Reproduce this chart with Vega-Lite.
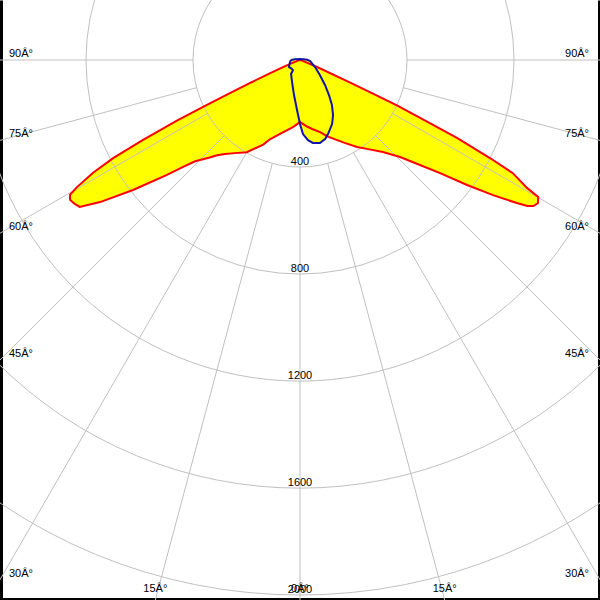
{
  "$schema": "https://vega.github.io/schema/vega-lite/v6.json",
  "width": 600,
  "height": 600,
  "padding": 0,
  "autosize": {"type": "none"},
  "background": "white",
  "config": {"view": {"stroke": null}, "text": {"font": "Liberation Sans", "fontSize": 11, "color": "black"}},
  "resolve": {"axis": {"x": "independent", "y": "independent"}},
  "datasets": {
    "red": [
      {"angle": -90, "cd": 0}, {"angle": -80, "cd": 0}, {"angle": -72, "cd": 5}, {"angle": -69, "cd": 30},
      {"angle": -67.5, "cd": 69}, {"angle": -66.2, "cd": 130}, {"angle": -65.3, "cd": 209}, {"angle": -64.7, "cd": 300},
      {"angle": -64.3, "cd": 386}, {"angle": -63.8, "cd": 511}, {"angle": -63, "cd": 662}, {"angle": -62.3, "cd": 789},
      {"angle": -61.4, "cd": 881}, {"angle": -60.3, "cd": 961}, {"angle": -59.6, "cd": 997}, {"angle": -58.7, "cd": 1006},
      {"angle": -57.5, "cd": 1000}, {"angle": -56.3, "cd": 990}, {"angle": -54.6, "cd": 917}, {"angle": -52.1, "cd": 791},
      {"angle": -49.2, "cd": 657}, {"angle": -47.5, "cd": 590}, {"angle": -46, "cd": 545}, {"angle": -45, "cd": 529},
      {"angle": -43, "cd": 500}, {"angle": -41, "cd": 472}, {"angle": -38.6, "cd": 450}, {"angle": -35, "cd": 425},
      {"angle": -30, "cd": 398}, {"angle": -23.5, "cd": 345}, {"angle": -20.8, "cd": 317}, {"angle": -13, "cd": 277},
      {"angle": -6, "cd": 252}, {"angle": 0, "cd": 232}, {"angle": 6, "cd": 250}, {"angle": 10, "cd": 262},
      {"angle": 15.5, "cd": 280}, {"angle": 20, "cd": 305}, {"angle": 28, "cd": 350}, {"angle": 33.2, "cd": 389},
      {"angle": 37, "cd": 416}, {"angle": 42, "cd": 463}, {"angle": 45.9, "cd": 521}, {"angle": 48.8, "cd": 596},
      {"angle": 51.1, "cd": 673}, {"angle": 53.2, "cd": 780}, {"angle": 55, "cd": 881}, {"angle": 56.6, "cd": 971},
      {"angle": 57.3, "cd": 1010}, {"angle": 58, "cd": 1030}, {"angle": 59, "cd": 1038}, {"angle": 60.1, "cd": 1027},
      {"angle": 60.6, "cd": 974}, {"angle": 62, "cd": 901}, {"angle": 62.7, "cd": 799}, {"angle": 63.6, "cd": 655},
      {"angle": 64.1, "cd": 528}, {"angle": 64.9, "cd": 400}, {"angle": 65.3, "cd": 300}, {"angle": 65.7, "cd": 206},
      {"angle": 67.6, "cd": 69}, {"angle": 70, "cd": 20}, {"angle": 75, "cd": 5}, {"angle": 80, "cd": 0},
      {"angle": 90, "cd": 0}
    ],
    "blue": [
      {"angle": -90, "cd": 34}, {"angle": -78.7, "cd": 38}, {"angle": -57.5, "cd": 49}, {"angle": -45, "cd": 45},
      {"angle": -35, "cd": 46}, {"angle": -32.7, "cd": 62}, {"angle": -20, "cd": 87}, {"angle": -9.7, "cd": 133},
      {"angle": -3.4, "cd": 187}, {"angle": 0, "cd": 239}, {"angle": 2.3, "cd": 277}, {"angle": 5.7, "cd": 301},
      {"angle": 8.9, "cd": 314}, {"angle": 13.5, "cd": 319}, {"angle": 17.6, "cd": 310}, {"angle": 20.7, "cd": 296},
      {"angle": 26.6, "cd": 268}, {"angle": 31, "cd": 240}, {"angle": 35.4, "cd": 206}, {"angle": 39.6, "cd": 170},
      {"angle": 45, "cd": 132}, {"angle": 53, "cd": 93}, {"angle": 65, "cd": 62}, {"angle": 84, "cd": 38},
      {"angle": 92, "cd": 27}, {"angle": 105, "cd": 12}, {"angle": 180, "cd": 4}, {"angle": 262, "cd": 19},
      {"angle": 270, "cd": 34}
    ],
    "rings": [{"cd": 400}, {"cd": 800}, {"cd": 1200}, {"cd": 1600}, {"cd": 2000}],
    "spokes": [
      {"angle": -90, "label": "90Â°"}, {"angle": -75, "label": "75Â°"}, {"angle": -60, "label": "60Â°"},
      {"angle": -45, "label": "45Â°"}, {"angle": -30, "label": "30Â°"}, {"angle": -15, "label": "15Â°"},
      {"angle": 0, "label": "0Â°"}, {"angle": 15, "label": "15Â°"}, {"angle": 30, "label": "30Â°"},
      {"angle": 45, "label": "45Â°"}, {"angle": 60, "label": "60Â°"}, {"angle": 75, "label": "75Â°"},
      {"angle": 90, "label": "90Â°"}
    ]
  },
  "layer": [
    {
      "data": {"name": "red"},
      "transform": [
        {"calculate": "datum.cd * sin(datum.angle * PI / 180)", "as": "x"},
        {"calculate": "-datum.cd * cos(datum.angle * PI / 180)", "as": "y"}
      ],
      "mark": {"type": "line", "fill": "#ffff00", "stroke": null, "strokeWidth": 0, "clip": true},
      "encoding": {
        "x": {"field": "x", "type": "quantitative", "scale": {"domain": [-1121.5, 1121.5], "nice": false, "zero": false},
              "axis": {"orient": "bottom", "domain": true, "domainColor": "black", "domainWidth": 5, "ticks": false, "labels": false, "grid": false, "title": null}},
        "y": {"field": "y", "type": "quantitative", "scale": {"domain": [-2018.7, 224.3], "nice": false, "zero": false},
              "axis": {"orient": "left", "domain": true, "domainColor": "black", "domainWidth": 5, "ticks": false, "labels": false, "grid": false, "title": null}},
        "order": {"field": "angle", "type": "quantitative"}
      }
    },
    {
      "data": {"name": "blue"},
      "transform": [
        {"calculate": "datum.cd * sin(datum.angle * PI / 180)", "as": "x"},
        {"calculate": "-datum.cd * cos(datum.angle * PI / 180)", "as": "y"}
      ],
      "mark": {"type": "line", "fill": "#ffff00", "stroke": null, "strokeWidth": 0, "clip": true},
      "encoding": {
        "x": {"field": "x", "type": "quantitative", "scale": {"domain": [-1121.5, 1121.5], "nice": false, "zero": false}, "axis": null},
        "y": {"field": "y", "type": "quantitative", "scale": {"domain": [-2018.7, 224.3], "nice": false, "zero": false}, "axis": null},
        "order": {"field": "angle", "type": "quantitative"}
      }
    },
    {
      "data": {"name": "rings"},
      "mark": {"type": "point", "shape": "circle", "filled": false, "stroke": "#c0c0c0", "strokeWidth": 1, "opacity": 1, "clip": true},
      "encoding": {
        "x": {"datum": 0, "type": "quantitative", "scale": {"domain": [-1121.5, 1121.5], "nice": false, "zero": false}, "axis": null},
        "y": {"datum": 0, "type": "quantitative", "scale": {"domain": [-2018.7, 224.3], "nice": false, "zero": false}, "axis": null},
        "size": {"field": "cd", "type": "quantitative", "scale": {"type": "pow", "exponent": 2, "domain": [0, 2000], "range": [0, 1144900]}, "legend": null}
      }
    },
    {
      "data": {"name": "spokes"},
      "transform": [
        {"calculate": "400 * sin(datum.angle * PI / 180)", "as": "x"},
        {"calculate": "-400 * cos(datum.angle * PI / 180)", "as": "y"},
        {"calculate": "3000 * sin(datum.angle * PI / 180)", "as": "x2"},
        {"calculate": "-3000 * cos(datum.angle * PI / 180)", "as": "y2"}
      ],
      "mark": {"type": "rule", "stroke": "#c0c0c0", "strokeWidth": 1, "clip": true},
      "encoding": {
        "x": {"field": "x", "type": "quantitative", "scale": {"domain": [-1121.5, 1121.5], "nice": false, "zero": false}, "axis": null},
        "y": {"field": "y", "type": "quantitative", "scale": {"domain": [-2018.7, 224.3], "nice": false, "zero": false},
              "axis": {"orient": "right", "domain": true, "domainColor": "black", "domainWidth": 5, "ticks": false, "labels": false, "grid": false, "title": null}},
        "x2": {"field": "x2"},
        "y2": {"field": "y2"}
      }
    },
    {
      "data": {"name": "red"},
      "transform": [
        {"calculate": "datum.cd * sin(datum.angle * PI / 180)", "as": "x"},
        {"calculate": "-datum.cd * cos(datum.angle * PI / 180)", "as": "y"}
      ],
      "mark": {"type": "line", "stroke": "#ff0000", "strokeWidth": 2, "clip": true},
      "encoding": {
        "x": {"field": "x", "type": "quantitative", "scale": {"domain": [-1121.5, 1121.5], "nice": false, "zero": false}, "axis": null},
        "y": {"field": "y", "type": "quantitative", "scale": {"domain": [-2018.7, 224.3], "nice": false, "zero": false}, "axis": null},
        "order": {"field": "angle", "type": "quantitative"}
      }
    },
    {
      "data": {"name": "blue"},
      "transform": [
        {"calculate": "datum.cd * sin(datum.angle * PI / 180)", "as": "x"},
        {"calculate": "-datum.cd * cos(datum.angle * PI / 180)", "as": "y"}
      ],
      "mark": {"type": "line", "stroke": "#1414a8", "strokeWidth": 2, "clip": true},
      "encoding": {
        "x": {"field": "x", "type": "quantitative", "scale": {"domain": [-1121.5, 1121.5], "nice": false, "zero": false}, "axis": null},
        "y": {"field": "y", "type": "quantitative", "scale": {"domain": [-2018.7, 224.3], "nice": false, "zero": false}, "axis": null},
        "order": {"field": "angle", "type": "quantitative"}
      }
    },
    {
      "data": {"name": "rings"},
      "transform": [{"calculate": "-datum.cd", "as": "y"}],
      "mark": {"type": "text", "align": "center", "baseline": "alphabetic", "dy": -2, "color": "black", "fill": "black"},
      "encoding": {
        "x": {"datum": 0, "type": "quantitative", "scale": {"domain": [-1121.5, 1121.5], "nice": false, "zero": false}, "axis": null},
        "y": {"field": "y", "type": "quantitative", "scale": {"domain": [-2018.7, 224.3], "nice": false, "zero": false}, "axis": null},
        "text": {"field": "cd", "type": "quantitative"}
      }
    },
    {
      "data": {"name": "spokes"},
      "transform": [
        {"filter": "datum.angle <= -30"},
        {"calculate": "min(1121.5 / abs(sin(datum.angle * PI / 180)), 2018.7 / cos(datum.angle * PI / 180))", "as": "t"},
        {"calculate": "datum.t * sin(datum.angle * PI / 180)", "as": "x"},
        {"calculate": "-datum.t * cos(datum.angle * PI / 180)", "as": "y"}
      ],
      "mark": {"type": "text", "align": "left", "baseline": "alphabetic", "dx": 9, "dy": -3, "color": "black", "fill": "black"},
      "encoding": {
        "x": {"field": "x", "type": "quantitative", "scale": {"domain": [-1121.5, 1121.5], "nice": false, "zero": false}, "axis": null},
        "y": {"field": "y", "type": "quantitative", "scale": {"domain": [-2018.7, 224.3], "nice": false, "zero": false}, "axis": null},
        "text": {"field": "label"}
      }
    },
    {
      "data": {"name": "spokes"},
      "transform": [
        {"filter": "datum.angle >= 30"},
        {"calculate": "min(1121.5 / abs(sin(datum.angle * PI / 180)), 2018.7 / cos(datum.angle * PI / 180))", "as": "t"},
        {"calculate": "datum.t * sin(datum.angle * PI / 180)", "as": "x"},
        {"calculate": "-datum.t * cos(datum.angle * PI / 180)", "as": "y"}
      ],
      "mark": {"type": "text", "align": "right", "baseline": "alphabetic", "dx": -11, "dy": -3, "color": "black", "fill": "black"},
      "encoding": {
        "x": {"field": "x", "type": "quantitative", "scale": {"domain": [-1121.5, 1121.5], "nice": false, "zero": false}, "axis": null},
        "y": {"field": "y", "type": "quantitative", "scale": {"domain": [-2018.7, 224.3], "nice": false, "zero": false}, "axis": null},
        "text": {"field": "label"}
      }
    },
    {
      "data": {"name": "spokes"},
      "transform": [
        {"filter": "abs(datum.angle) <= 15"},
        {"calculate": "min(1121.5 / abs(sin(datum.angle * PI / 180)), 2018.7 / cos(datum.angle * PI / 180))", "as": "t"},
        {"calculate": "datum.t * sin(datum.angle * PI / 180)", "as": "x"},
        {"calculate": "-datum.t * cos(datum.angle * PI / 180)", "as": "y"}
      ],
      "mark": {"type": "text", "align": "center", "baseline": "alphabetic", "dx": 0, "dy": -8, "color": "black", "fill": "black"},
      "encoding": {
        "x": {"field": "x", "type": "quantitative", "scale": {"domain": [-1121.5, 1121.5], "nice": false, "zero": false}, "axis": null},
        "y": {"field": "y", "type": "quantitative", "scale": {"domain": [-2018.7, 224.3], "nice": false, "zero": false}, "axis": null},
        "text": {"field": "label"}
      }
    }
  ]
}
